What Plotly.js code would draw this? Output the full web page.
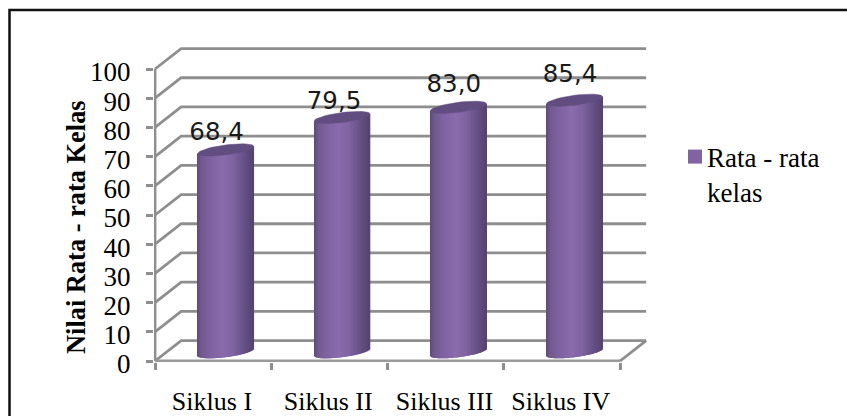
<!DOCTYPE html>
<html>
<head>
<meta charset="utf-8">
<script src="https://cdn.plot.ly/plotly-3.0.1.min.js"></script>
<style>html,body{margin:0;padding:0;background:#fff}#c{width:847px;height:416px}</style>
</head>
<body>
<div id="c"></div>
<script>
const categories = ['Siklus I', 'Siklus II', 'Siklus III', 'Siklus IV'];
const values = [68.4, 79.5, 83.0, 85.4];
const valueLabels = ['68,4', '79,5', '83,0', '85,4'];
const seriesName = 'Rata - rata<br>kelas';
const yTicks = [0, 10, 20, 30, 40, 50, 60, 70, 80, 90, 100];

// Geometry of the pseudo-3D box, in axis units
const unitX = 116.25, unitY = 2.92;
const depthX = 0.225, depthY = 7.0;
const barCenterOffset = 0.61, barHalfWidth = 0.24;
const capRise = 3.9, baseRise = 3.0, capTilt = 1.2, capMinor = 1.7;
const labelDx = [0.53, 0.54, 0.57, 0.57];
const labelDy = [9.4, 9.0, 11.2, 12.4];
const gridColor = '#8e8e8e', textColor = '#000';
const serif = '"Liberation Serif", serif';

const stops = [[0,'#5d4a7b'],[0.08,'#72598f'],[0.25,'#7e62a0'],[0.45,'#8a6bad'],[0.65,'#7f62a0'],[0.85,'#654f84'],[1,'#55436f']];
function hex(c){return [1,3,5].map(i=>parseInt(c.substr(i,2),16));}
function shade(t){
  for(let i=1;i<stops.length;i++){
    if(t<=stops[i][0]){
      const a=stops[i-1],b=stops[i],f=(t-a[0])/(b[0]-a[0]);
      const A=hex(a[1]),B=hex(b[1]);
      return 'rgb('+A.map((v,k)=>Math.round(v+(B[k]-v)*f)).join(',')+')';
    }
  }
  return stops[stops.length-1][1];
}

// Cylinder bodies: one bar per narrow strip, each overlapping the next
const stripN = 56, bx=[], by=[], bb=[], bw=[], bc=[];
values.forEach((v,i)=>{
  const cx=i+barCenterOffset;
  for(let s=0;s<stripN;s++){
    const u=(s+0.5)/stripN*2-1;
    const lower=baseRise+capTilt*u-capMinor*Math.sqrt(1-u*u);
    const upper=v+capRise+capTilt*u;
    bx.push(cx+u*barHalfWidth);
    bb.push(lower);
    by.push(upper-lower);
    bw.push(2*barHalfWidth/stripN*1.5);
    bc.push(shade((u+1)/2));
  }
});

// Elliptical caps
function cap(v,i){
  const xs=[],ys=[],cx=i+barCenterOffset;
  for(let k=0;k<=48;k++){
    const t=k/48*2*Math.PI,u=Math.cos(t);
    xs.push(cx+u*barHalfWidth);
    ys.push(v+capRise+capTilt*u+capMinor*Math.sin(t));
  }
  return {x:xs,y:ys,type:'scatter',mode:'lines',fill:'toself',fillcolor:'#614d80',
    line:{width:0.5,color:'#614d80'},hoverinfo:'skip',showlegend:false,xaxis:'x',yaxis:'y'};
}

const traces=[
  {type:'bar',x:bx,y:by,base:bb,width:bw,marker:{color:bc,line:{width:0}},showlegend:false,hoverinfo:'skip',xaxis:'x',yaxis:'y'},
  ...values.map(cap),
  {type:'scatter',mode:'text',x:values.map((_,i)=>i+labelDx[i]),y:values.map((v,i)=>v+labelDy[i]),
    text:valueLabels,textposition:'middle center',
    textfont:{family:'"DejaVu Sans", sans-serif',size:24.5,color:'#1a1a1a'},showlegend:false,hoverinfo:'skip',xaxis:'x',yaxis:'y'},
  // carries the category labels on the overlaid x axis
  {type:'scatter',mode:'markers',x:categories.map((_,i)=>i+0.49),y:categories.map(()=>null),
    marker:{opacity:0},showlegend:false,hoverinfo:'skip',xaxis:'x2',yaxis:'y'},
  // legend entry
  {type:'scatter',mode:'markers',x:[null],y:[null],name:seriesName,
    marker:{symbol:'square',size:14,color:'#8064a2'},xaxis:'x',yaxis:'y'}
];

// Walls and grid, drawn behind the bars
const ln={color:gridColor,width:2.8};
const shapes=[];
const xEnd=categories.length;
yTicks.forEach(v=>{
  shapes.push({type:'path',layer:'below',xref:'x',yref:'y',line:ln,
    path:`M0,${v}L${depthX},${v+depthY}L${xEnd+depthX},${v+depthY}`});
});
shapes.push({type:'line',layer:'below',xref:'x',yref:'y',x0:0,x1:0,y0:0,y1:yTicks[yTicks.length-1],line:ln});
shapes.push({type:'line',layer:'below',xref:'x',yref:'y',x0:0,x1:xEnd,y0:0,y1:0,line:{color:'#9a9a9a',width:3}});
shapes.push({type:'line',layer:'below',xref:'x',yref:'y',x0:xEnd,x1:xEnd+depthX,y0:0,y1:depthY,line:ln});

// Outer frame: top and left edges only, as cropped in the picture
const L=154,R=197,T=46,B=54,W=847,H=416,pw=W-L-R,ph=H-T-B;
const px=x=>(x-L)/pw, py=y=>(H-B-y)/ph;
shapes.push({type:'path',layer:'above',xref:'paper',yref:'paper',line:{color:'#111',width:2.5},
  path:`M${px(9.5)},${py(416)}L${px(9.5)},${py(10)}L${px(847)},${py(10)}`});

const xRange=[-1/unitX,(pw-1)/unitX], yRange=[-1/unitY,(ph-1)/unitY];
const layout={
  width:W,height:H,margin:{l:L,r:R,t:T,b:B,pad:0},paper_bgcolor:'#fff',plot_bgcolor:'rgba(0,0,0,0)',
  barmode:'overlay',hovermode:false,
  font:{family:serif,color:textColor},
  xaxis:{range:xRange,tickmode:'array',tickvals:categories.map((_,i)=>i).concat([xEnd]),ticktext:['','','','',''],
    ticks:'outside',ticklen:7,tickwidth:2.5,tickcolor:gridColor,showgrid:false,zeroline:false,showline:false,fixedrange:true},
  xaxis2:{overlaying:'x',side:'bottom',anchor:'y',range:xRange,tickmode:'array',tickvals:categories.map((_,i)=>i+0.49),ticktext:categories,
    ticks:'',ticklabelstandoff:21,tickfont:{family:serif,size:26,color:textColor},showgrid:false,zeroline:false,showline:false,fixedrange:true},
  yaxis:{range:yRange,tickmode:'array',tickvals:yTicks,ticks:'outside',ticklen:7,tickwidth:2.5,tickcolor:gridColor,ticklabelstandoff:10,ticklabelshift:3,
    tickfont:{family:serif,size:27,color:textColor},showgrid:false,zeroline:false,showline:false,fixedrange:true},
  legend:{x:(667-L)/pw,xanchor:'left',y:py(132),yanchor:'top',font:{family:serif,size:27,color:textColor},bgcolor:'rgba(0,0,0,0)',itemclick:false,itemdoubleclick:false},
  shapes:shapes,
  annotations:[{text:'<b>Nilai Rata - rata Kelas</b>',textangle:-90,xref:'paper',yref:'paper',x:px(76),y:py(227),
    xanchor:'center',yanchor:'middle',showarrow:false,font:{family:serif,size:26.4,color:textColor}}]
};
Plotly.newPlot('c',traces,layout,{displayModeBar:false}).then(gd=>{
  // place the legend swatch beside the first text line, close to the text
  gd.querySelectorAll('.legend .legendpoints').forEach(g=>g.setAttribute('transform','translate(8,-17)'));
});
</script>
</body>
</html>
